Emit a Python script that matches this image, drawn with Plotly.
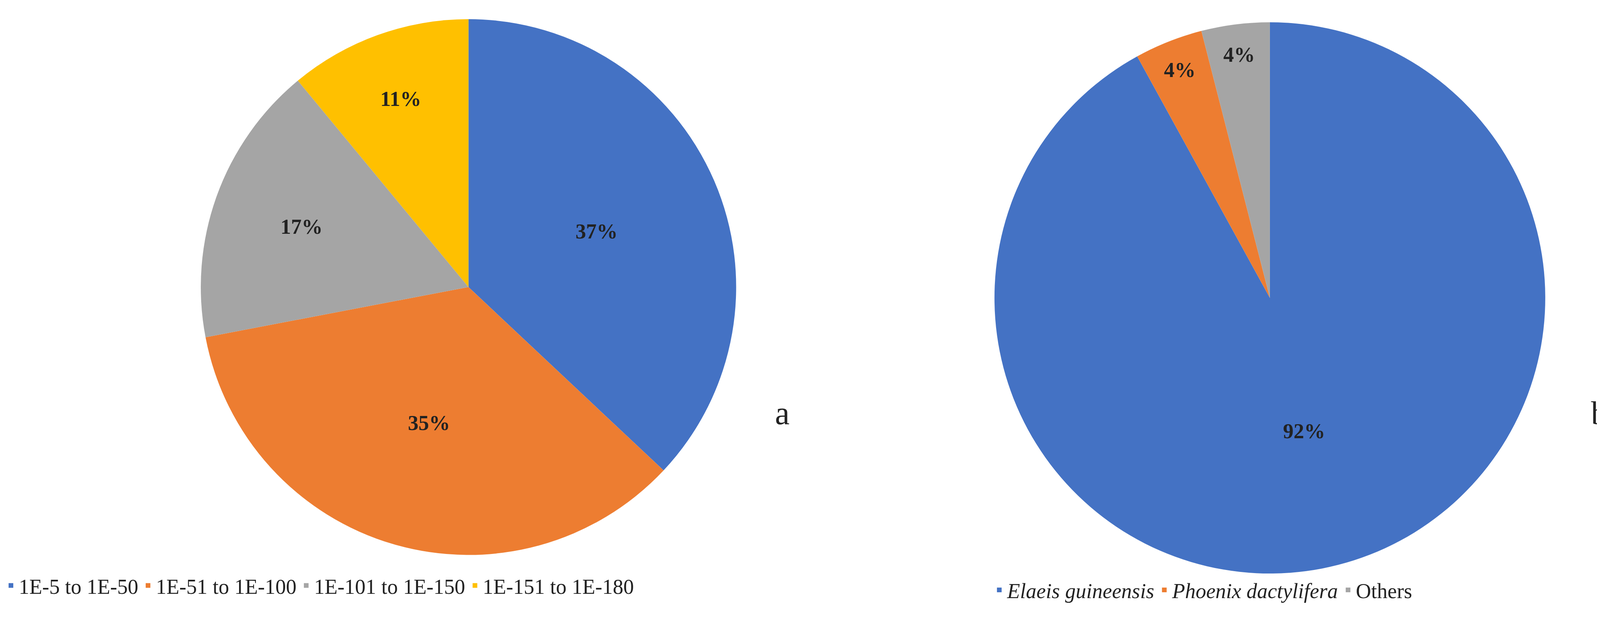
import plotly.graph_objects as go

# panel a: e-value ranges
evalue_labels = ["1E-5 to 1E-50", "1E-51 to 1E-100", "1E-101 to 1E-150", "1E-151 to 1E-180"]
evalue_share = [37, 35, 17, 11]

# panel b: top-hit species
species_labels = ["<i>Elaeis guineensis</i>", "<i>Phoenix dactylifera</i>", "Others"]
species_share = [92, 4, 4]

office_colors = ["#4472C4", "#ED7D31", "#A5A5A5", "#FFC000"]
font_family = "Liberation Serif"

fig = go.Figure()

fig.add_trace(go.Pie(
    labels=evalue_labels, values=evalue_share,
    sort=False, direction="clockwise", rotation=0,
    marker=dict(colors=office_colors),
    texttemplate="<b>%{value}%</b>", textposition="inside", insidetextorientation="horizontal",
    textfont=dict(size=54, color="#222222", family=font_family),
    domain=dict(x=[0.12, 0.445], y=[0.135, 0.975]),
    legend="legend",
))

fig.add_trace(go.Pie(
    labels=species_labels, values=species_share,
    sort=False, direction="clockwise", rotation=0,
    marker=dict(colors=office_colors[:3]),
    texttemplate="<b>%{value}%</b>", textposition="inside", insidetextorientation="horizontal",
    textfont=dict(size=54, color="#222222", family=font_family),
    domain=dict(x=[0.6015, 0.9365], y=[0.106, 0.970]),
    legend="legend2",
))

legend_style = dict(orientation="h", font=dict(size=54, family=font_family, color="#222222"),
                    xanchor="left", yanchor="middle", itemwidth=30, bgcolor="rgba(0,0,0,0)")

fig.update_layout(
    width=4217, height=1632,
    margin=dict(l=0, r=0, t=0, b=0),
    paper_bgcolor="white",
    font=dict(family=font_family),
    legend=dict(x=0.0, y=0.087, **legend_style),
    legend2=dict(x=0.6, y=0.08, **legend_style),
    annotations=[
        dict(text="a", x=0.473, y=0.328, xref="paper", yref="paper", showarrow=False,
             xanchor="center", font=dict(size=84, family=font_family, color="#222222")),
        dict(text="b", x=0.969, y=0.328, xref="paper", yref="paper", showarrow=False,
             xanchor="center", font=dict(size=84, family=font_family, color="#222222")),
    ],
)

fig.write_html("out.html")
